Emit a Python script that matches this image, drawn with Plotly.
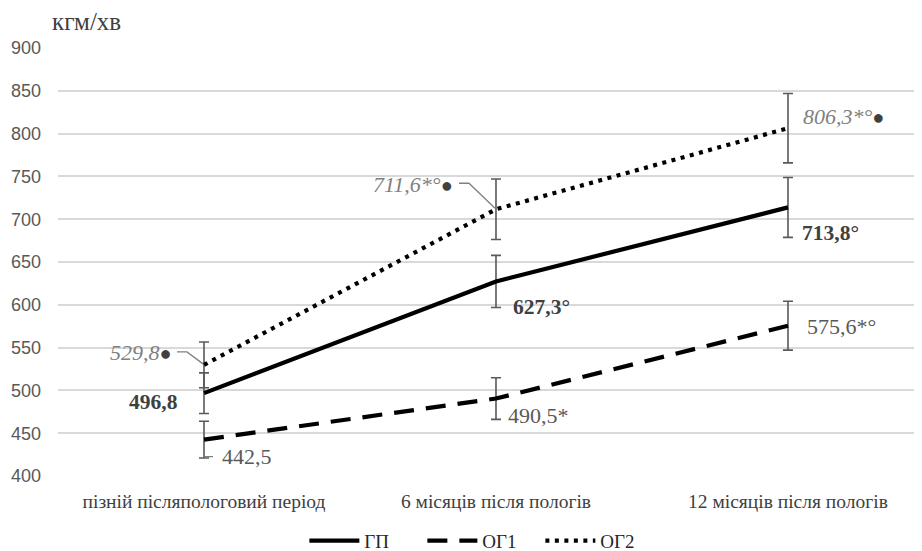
import plotly.graph_objects as go

categories = ["пізній післяпологовий період", "6 місяців після пологів", "12 місяців після пологів"]
series_names = ["ГП", "ОГ1", "ОГ2"]
gp = [496.8, 627.3, 713.8]
og1 = [442.5, 490.5, 575.6]
og2 = [529.8, 711.6, 806.3]
gp_err = [23.7, 30.4, 35.0]
og1_err = [21.5, 24.3, 28.6]
og2_err = [26.7, 35.3, 40.5]
y_ticks = [400, 450, 500, 550, 600, 650, 700, 750, 800, 850, 900]
gp_labels = ["496,8", "627,3°", "713,8°"]
og1_labels = ["442,5", "490,5*", "575,6*°"]
og2_labels = ["529,8", "711,6*°", "806,3*°"]
y_title = "кгм/хв"

xs = list(range(len(categories)))
SERIF = "Liberation Serif, Times New Roman, serif"
SANS = "Liberation Sans, Arial, sans-serif"
ERR_COL = "#595959"

fig = go.Figure()

# error bars (drawn below the lines)
for vals, errs in [(gp, gp_err), (og1, og1_err), (og2, og2_err)]:
    fig.add_trace(go.Scatter(
        x=xs, y=vals, mode="markers",
        marker=dict(size=1, color="rgba(0,0,0,0)"),
        error_y=dict(type="data", array=errs, visible=True, color=ERR_COL, thickness=1.6, width=5),
        showlegend=False, hoverinfo="skip"))

fig.add_trace(go.Scatter(x=xs, y=gp, mode="lines", name=series_names[0],
                         line=dict(color="black", width=4.2)))
fig.add_trace(go.Scatter(x=xs, y=og1, mode="lines", name=series_names[1],
                         line=dict(color="black", width=4.2, dash="20px,12px")))
fig.add_trace(go.Scatter(x=xs, y=og2, mode="lines", name=series_names[2],
                         line=dict(color="black", width=4.2, dash="4px,5.5px")))

ann = []
dot = "<span style='font-style:normal;color:#404040;font-size:20px'>●</span>"
# ОГ2 labels (italic, light grey)
og2_pos = [(-30, 12, "right"), (-41, 25, "right"), (13, 12, "left")]
for i, (dx, dy, anc) in enumerate(og2_pos):
    ann.append(dict(x=xs[i], y=og2[i], xref="x", yref="y", showarrow=False,
                    text="<i>" + og2_labels[i] + "</i>" + dot, xanchor=anc, yanchor="middle",
                    xshift=dx, yshift=dy, font=dict(family=SERIF, size=22, color="#7f7f7f")))
# ГП labels (bold)
gp_pos = [(-24, -9, "right"), (15, -26, "left"), (12, -26, "left")]
for i, (dx, dy, anc) in enumerate(gp_pos):
    ann.append(dict(x=xs[i], y=gp[i], xref="x", yref="y", showarrow=False,
                    text="<b>" + gp_labels[i] + "</b>", xanchor=anc, yanchor="middle",
                    xshift=dx, yshift=dy, font=dict(family=SERIF, size=21.5, color="#404040")))
# ОГ1 labels (regular)
og1_pos = [(16, -17, "left"), (10, -17, "left"), (17, -1, "left")]
for i, (dx, dy, anc) in enumerate(og1_pos):
    ann.append(dict(x=xs[i], y=og1[i], xref="x", yref="y", showarrow=False,
                    text=og1_labels[i], xanchor=anc, yanchor="middle",
                    xshift=dx, yshift=dy, font=dict(family=SERIF, size=22, color="#595959")))

ann.append(dict(x=0, y=1.061, xref="paper", yref="paper", showarrow=False,
                text=y_title, xanchor="left", yanchor="middle", xshift=-8,
                font=dict(family=SERIF, size=25, color="#404040")))

shapes = [
    dict(type="path", xref="x", yref="y", xsizemode="pixel", ysizemode="pixel",
         xanchor=xs[0], yanchor=og2[0], path="M -27 13 L -17 13 L -1 1",
         line=dict(color="#808080", width=1.3)),
    dict(type="path", xref="x", yref="y", xsizemode="pixel", ysizemode="pixel",
         xanchor=xs[1], yanchor=og2[1], path="M -37 26 L -27 26 L -1 1",
         line=dict(color="#808080", width=1.3)),
    dict(type="path", xref="x", yref="y", xsizemode="pixel", ysizemode="pixel",
         xanchor=xs[0], yanchor=og1[0], path="M 1 -17 L 9 -17",
         line=dict(color="#808080", width=1.3)),
]

fig.update_layout(
    width=922, height=551,
    margin=dict(l=50, r=8, t=40, b=83),
    paper_bgcolor="white", plot_bgcolor="white",
    annotations=ann, shapes=shapes,
    legend=dict(orientation="h", x=0.49, xanchor="center", y=0.033, yanchor="middle",
                yref="container",
                font=dict(family=SERIF, size=19, color="#262626"), itemwidth=50,
                entrywidth=53, entrywidthmode="pixels",
                bgcolor="rgba(0,0,0,0)"),
    xaxis=dict(range=[-0.5, 2.459], tickvals=xs, ticktext=categories, showgrid=False,
               zeroline=False, showline=False, ticks="", ticklabelstandoff=11, automargin=False,
               tickfont=dict(family=SERIF, size=19.5, color="#404040")),
    yaxis=dict(range=[400, 900], tickvals=y_ticks, showgrid=True, gridcolor="#d9d9d9",
               gridwidth=1.5, zeroline=False, showline=False, ticks="", ticklabelstandoff=16,
               automargin=False,
               tickfont=dict(family=SANS, size=18, color="#595959")),
)

fig.write_html("out.html")
